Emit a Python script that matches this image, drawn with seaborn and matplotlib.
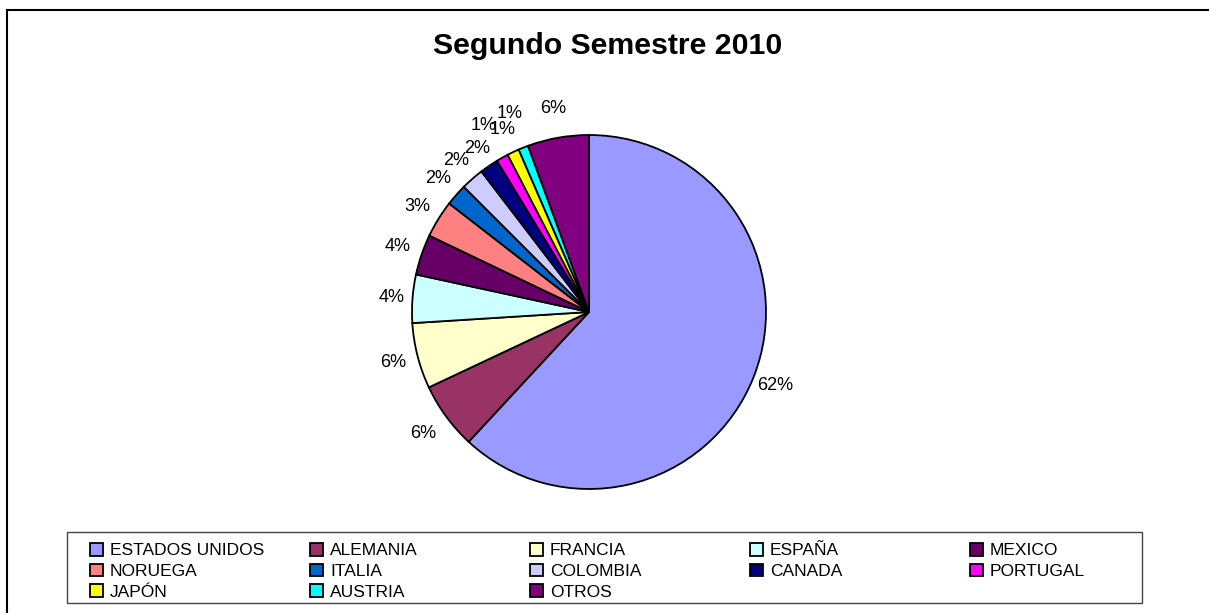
import numpy as np
import matplotlib
matplotlib.use('Agg')
import matplotlib.pyplot as plt
from matplotlib.patches import Rectangle
import seaborn as sns

# ── Data ──────────────────────────────────────────────────────────────────────
countries = ["ESTADOS UNIDOS", "ALEMANIA", "FRANCIA", "ESPAÑA", "MEXICO",
             "NORUEGA", "ITALIA", "COLOMBIA", "CANADA", "PORTUGAL",
             "JAPÓN", "AUSTRIA", "OTROS"]
shares = [61.9, 6.1, 6.0, 4.4, 3.7, 3.4, 2.0, 2.1, 1.7, 1.1, 1.1, 0.9, 5.6]
colors = ["#9999FF", "#993366", "#FFFFCC", "#CCFFFF", "#660066",
          "#FF8080", "#0066CC", "#CCCCFF", "#000080", "#FF00FF",
          "#FFFF00", "#00FFFF", "#800080"]
title = "Segundo Semestre 2010"

# radial distance of each % label (in pie radii), Excel staggers the small ones
label_dist = [1.13, 1.16, 1.14, 1.12, 1.14, 1.14, 1.14, 1.14, 1.12,
              1.21, 1.14, 1.21, 1.17]

sns.set_theme(style="white")
FONT = ["Liberation Sans", "DejaVu Sans"]
plt.rcParams['font.family'] = FONT
plt.rcParams['text.color'] = "black"

W, H = 1209, 613
fig = plt.figure(figsize=(W / 100, H / 100), dpi=100)
fig.patch.set_facecolor("white")

# chart-area border (right / bottom edges fall outside the image)
fig.add_artist(Rectangle((7 / W, -0.05), 1.2, 1 - 10 / H + 0.05,
                         transform=fig.transFigure, fill=False,
                         ec="black", lw=1.5, clip_on=False))

fig.text(608 / W, 1 - 54 / H, title, ha="center", va="baseline",
         fontsize=21.8, fontweight="bold", color="black")

# ── Pie ───────────────────────────────────────────────────────────────────────
cx, cy, r = 589, 312, 177
ax = fig.add_axes([(cx - r) / W, 1 - (cy + r) / H, 2 * r / W, 2 * r / H])
wedges, _, pcts = ax.pie(
    shares, colors=sns.color_palette(colors), startangle=90, counterclock=False,
    radius=1, autopct="%1.0f%%", pctdistance=1.14,
    wedgeprops=dict(edgecolor="black", linewidth=1.3),
    textprops=dict(fontsize=13, color="black"))
for w, t, d in zip(wedges, pcts, label_dist):
    ang = np.deg2rad((w.theta1 + w.theta2) / 2)
    t.set_position((d * np.cos(ang), d * np.sin(ang)))
ax.set_xlim(-1, 1)
ax.set_ylim(-1, 1)
ax.set_aspect("equal")
ax.axis("off")

# ── Legend (row-major, 5 columns, Excel style) ───────────────────────────────
fig.add_artist(Rectangle((67 / W, 1 - 603 / H), (1142 - 67) / W, 71 / H,
                         transform=fig.transFigure, fill=False,
                         ec="#444444", lw=1.0))
ncol = 5
for c in range(ncol):
    idx = list(range(c, len(countries), ncol))
    fig.legend([wedges[i] for i in idx], [countries[i] for i in idx],
               loc="upper left", bbox_to_anchor=((90 + 220 * c) / W, 1 - 543 / H),
               frameon=False, borderpad=0, borderaxespad=0,
               labelspacing=0.3, handlelength=0.75, handleheight=0.75,
               handletextpad=0.4,
               prop=dict(size=12.5))

plt.savefig("out.png", dpi=100)
